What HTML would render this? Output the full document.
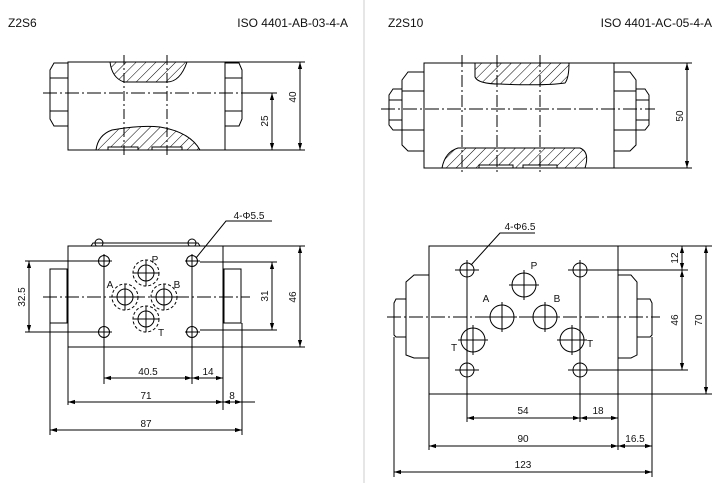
<!DOCTYPE html>
<html><head><meta charset="utf-8"><style>
html,body{margin:0;padding:0;background:#fff;}
svg{display:block;font-family:"Liberation Sans",sans-serif;}
</style></head><body>
<svg width="718" height="483" viewBox="0 0 718 483" xmlns="http://www.w3.org/2000/svg">
<defs>
<pattern id="h" patternUnits="userSpaceOnUse" width="7" height="7" patternTransform="rotate(45)">
<rect width="7" height="7" fill="#fff"/><line x1="0" y1="0" x2="0" y2="7" stroke="#000" stroke-width="1"/></pattern>
<marker id="a" viewBox="0 0 10 10" refX="10" refY="5" markerWidth="7" markerHeight="7" orient="auto-start-reverse"><path d="M0,2 L10,5 L0,8z" fill="#000"/></marker>
</defs>
<line x1="364" y1="0" x2="364" y2="483" stroke="#ccc" stroke-width="1"/>
<g font-size="12" fill="#111">
<text x="8" y="27">Z2S6</text>
<text x="348" y="27" text-anchor="end">ISO 4401-AB-03-4-A</text>
<text x="388" y="27">Z2S10</text>
<text x="712" y="27" text-anchor="end">ISO 4401-AC-05-4-A</text>
</g>
<g stroke="#000" stroke-width="1" fill="none">
<!-- LEFT TOP VIEW -->
<path d="M110,62 Q112,78 124,82 L167,82 Q180,82 187,62 Z" fill="url(#h)"/>
<path d="M96,150 Q98,135 112,130 Q140,125 160,127 Q190,132 200,150 Z" fill="url(#h)"/>
<rect x="108" y="147" width="30" height="3" fill="#fff"/><rect x="152" y="147" width="30" height="3" fill="#fff"/>
<rect x="68" y="62" width="157" height="88"/>
<path d="M68,63 L54,63 L50,70 L50,119 L54,126 L68,126 M50,78 L68,78 M50,111 L68,111"/>
<path d="M225,63 L239,63 L242,70 L242,119 L239,126 L225,126 M225,78 L242,78 M225,111 L242,111"/>
<line x1="43" y1="93" x2="247" y2="93" stroke-dasharray="14,3,2,3"/>
<line x1="124" y1="55" x2="124" y2="157" stroke-dasharray="10,3,2,3"/>
<line x1="167" y1="55" x2="167" y2="157" stroke-dasharray="10,3,2,3"/>
<path d="M225,62 L305,62 M225,150 L305,150 M247,93 L277,93"/>
<line x1="300" y1="62" x2="300" y2="150" marker-start="url(#a)" marker-end="url(#a)"/>
<line x1="272" y1="93" x2="272" y2="150" marker-start="url(#a)" marker-end="url(#a)"/>
<!-- LEFT BOTTOM VIEW -->
<path d="M91,246 L93,243 L198,243 L200,246"/>
<circle cx="99" cy="243" r="4"/><circle cx="192" cy="243" r="4"/>
<rect x="68" y="246" width="155" height="101" fill="#fff"/>
<rect x="50" y="269" width="17" height="54"/>
<rect x="224" y="269" width="17" height="54"/>
<g>
<circle cx="104" cy="261" r="5.5"/><circle cx="192" cy="261" r="5.5"/>
<circle cx="104" cy="332" r="5.5"/><circle cx="192" cy="332" r="5.5"/>
<circle cx="146" cy="273" r="8"/><circle cx="125" cy="297" r="8"/><circle cx="164" cy="297" r="8"/><circle cx="146" cy="319" r="8"/>
<g stroke-dasharray="3,2"><circle cx="146" cy="273" r="13"/><circle cx="125" cy="297" r="13"/><circle cx="164" cy="297" r="13"/><circle cx="146" cy="319" r="13"/></g>
<path d="M146,260 V286 M133,273 H159 M125,284 V310 M112,297 H138 M164,284 V310 M151,297 H177 M146,306 V332 M133,319 H159"/>
<path d="M104,254 V384 M97,261 H112 M192,254 V384 M185,261 H200 M97,332 H112 M185,332 H200"/>
</g>
<line x1="43" y1="297" x2="250" y2="297" stroke-dasharray="14,3,2,3"/>
<path d="M25,261 H97 M25,332 H97 M200,262 H277 M200,330 H277 M223,246 H305 M223,347 H305"/>
<line x1="29" y1="261" x2="29" y2="332" marker-start="url(#a)" marker-end="url(#a)"/>
<line x1="272" y1="262" x2="272" y2="330" marker-start="url(#a)" marker-end="url(#a)"/>
<line x1="300" y1="246" x2="300" y2="347" marker-start="url(#a)" marker-end="url(#a)"/>
<path d="M68,347 V405 M223,347 V410 M242,323 V435 M50,323 V435"/>
<line x1="104" y1="378" x2="192" y2="378" marker-start="url(#a)" marker-end="url(#a)"/>
<line x1="192" y1="378" x2="223" y2="378" marker-start="url(#a)" marker-end="url(#a)"/>
<line x1="68" y1="402" x2="223" y2="402" marker-start="url(#a)" marker-end="url(#a)"/>
<line x1="223" y1="402" x2="242" y2="402" marker-start="url(#a)" marker-end="url(#a)"/>
<line x1="242" y1="402" x2="255" y2="402"/>
<line x1="50" y1="430" x2="242" y2="430" marker-start="url(#a)" marker-end="url(#a)"/>
<path d="M196,258 L226,221 H272"/>
<!-- RIGHT TOP VIEW -->
<path d="M475,63 V77 Q478,84 500,84 Q545,86 565,83 Q569,78 569,63 Z" fill="url(#h)"/>
<path d="M442,168 Q445,152 458,148 L580,148 Q590,152 585,168 Z" fill="url(#h)"/>
<rect x="479" y="165" width="34" height="3" fill="#fff"/><rect x="523" y="165" width="34" height="3" fill="#fff"/>
<rect x="424" y="63" width="190" height="105"/>
<path d="M424,72 L408,72 L402,80 V145 L408,151 L424,151 M402,91 H424 M402,130 H424"/>
<path d="M402,89 H393 L389,95 V125 L393,130 H402 M389,100 H402 M389,120 H402"/>
<path d="M614,72 L630,72 L636,80 V145 L630,151 L614,151 M614,91 H636 M614,130 H636"/>
<path d="M636,89 H645 L649,95 V125 L645,130 H636 M636,100 H649 M636,120 H649"/>
<line x1="381" y1="109" x2="655" y2="109" stroke-dasharray="14,3,2,3"/>
<line x1="462" y1="55" x2="462" y2="175" stroke-dasharray="12,3,2,3"/>
<line x1="497" y1="55" x2="497" y2="175" stroke-dasharray="12,3,2,3"/>
<line x1="540" y1="55" x2="540" y2="175" stroke-dasharray="12,3,2,3"/>
<path d="M614,63 H692 M614,168 H692"/>
<line x1="687" y1="63" x2="687" y2="168" marker-start="url(#a)" marker-end="url(#a)"/>
<!-- RIGHT BOTTOM VIEW -->
<path d="M429,275 H414 L406,282 V355 L414,358 H429"/>
<path d="M406,299 H396 L394,303 V335 L396,337 H406"/>
<path d="M618,275 H631 L637,282 V355 L631,358 H618"/>
<path d="M637,299 H650 L652,303 V335 L650,337 H637"/>
<rect x="429" y="246" width="189" height="148" fill="#fff"/>
<circle cx="467" cy="270" r="7"/><circle cx="580" cy="270" r="7"/><circle cx="467" cy="370" r="7"/><circle cx="580" cy="370" r="7"/>
<circle cx="524" cy="285" r="12"/><circle cx="502" cy="317" r="12"/><circle cx="545" cy="317" r="12"/><circle cx="473" cy="340" r="12"/><circle cx="572" cy="340" r="12"/>
<path d="M524,270 V300 M509,285 H539 M502,302 V332 M487,317 H517 M545,302 V332 M530,317 H560 M473,325 V355 M458,340 H488 M572,325 V355 M557,340 H587"/>
<path d="M467,260 V422 M455,270 H479 M580,260 V422 M568,270 H592 M455,370 H479 M568,370 H592"/>
<line x1="387" y1="317" x2="660" y2="317" stroke-dasharray="14,3,2,3"/>
<path d="M592,270 H688 M592,370 H688 M618,246 H712 M618,394 H712"/>
<line x1="682" y1="246" x2="682" y2="270" marker-start="url(#a)" marker-end="url(#a)"/>
<line x1="682" y1="270" x2="682" y2="370" marker-start="url(#a)" marker-end="url(#a)"/>
<line x1="706" y1="246" x2="706" y2="394" marker-start="url(#a)" marker-end="url(#a)"/>
<path d="M429,394 V450 M618,394 V450 M652,337 V477 M394,337 V477"/>
<line x1="467" y1="418" x2="580" y2="418" marker-start="url(#a)" marker-end="url(#a)"/>
<line x1="580" y1="418" x2="618" y2="418" marker-start="url(#a)" marker-end="url(#a)"/>
<line x1="429" y1="446" x2="618" y2="446" marker-start="url(#a)" marker-end="url(#a)"/>
<line x1="618" y1="446" x2="652" y2="446" marker-start="url(#a)" marker-end="url(#a)"/>
<line x1="394" y1="472" x2="652" y2="472" marker-start="url(#a)" marker-end="url(#a)"/>
<path d="M471,265 L500,233 H535"/>
</g>
<g font-size="10" fill="#111" text-anchor="middle">
<text transform="translate(296,97) rotate(-90)">40</text>
<text transform="translate(268,121) rotate(-90)">25</text>
<text x="155" y="263">P</text><text x="110" y="288">A</text><text x="177" y="288">B</text><text x="161" y="336">T</text>
<text transform="translate(25,297) rotate(-90)">32.5</text>
<text transform="translate(268,296) rotate(-90)">31</text>
<text transform="translate(296,297) rotate(-90)">46</text>
<text x="148" y="375">40.5</text><text x="208" y="375">14</text>
<text x="146" y="399">71</text><text x="232" y="399">8</text>
<text x="146" y="427">87</text>
<text x="249" y="219">4-Φ5.5</text>
<text transform="translate(683,116) rotate(-90)">50</text>
<text x="534" y="269">P</text><text x="486" y="302">A</text><text x="557" y="302">B</text><text x="454" y="351">T</text><text x="590" y="347">T</text>
<text transform="translate(678,258) rotate(-90)">12</text>
<text transform="translate(678,320) rotate(-90)">46</text>
<text transform="translate(702,320) rotate(-90)">70</text>
<text x="523" y="414">54</text><text x="598" y="414">18</text>
<text x="523" y="442">90</text><text x="635" y="442">16.5</text>
<text x="523" y="468">123</text>
<text x="520" y="230">4-Φ6.5</text>
</g>
</svg>
</body></html>
